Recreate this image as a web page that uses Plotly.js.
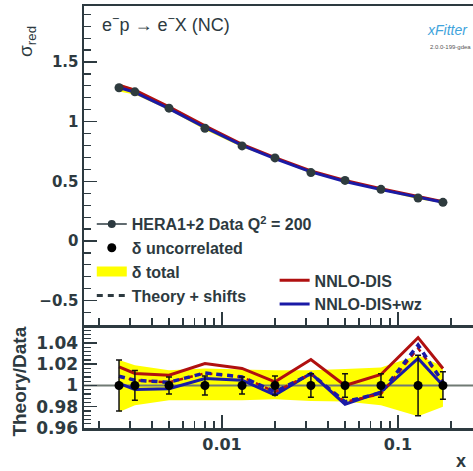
<!DOCTYPE html>
<html>
<head>
<meta charset="utf-8">
<script src="https://cdn.plot.ly/plotly-3.0.1.min.js"></script>
<style>html,body{margin:0;padding:0;background:#fff;}#chart{width:473px;height:471px;}</style>
</head>
<body>
<div id="chart"></div>
<script>
// ---- data ----
const xVals = [0.0026, 0.0032, 0.005, 0.008, 0.013, 0.02, 0.032, 0.05, 0.08, 0.13, 0.18];
const sigmaRed = [1.284, 1.250, 1.113, 0.945, 0.797, 0.696, 0.573, 0.508, 0.433, 0.360, 0.324];
const uncorrRel = [0.024, 0.014, 0.008, 0.009, 0.008, 0.009, 0.011, 0.011, 0.011, 0.0285, 0.013];
const totalUp = [1.024, 1.019, 1.0144, 1.016, 1.015, 1.0144, 1.0144, 1.0155, 1.017, 1.0285, 1.018];
const totalLo = [0.975, 0.9815, 0.986, 0.986, 0.986, 0.987, 0.9855, 0.985, 0.9815, 0.971, 0.980];
const ratioDIS = [1.0175, 1.0113, 1.0097, 1.0207, 1.016, 1.0034, 1.0244, 1.000, 1.0103, 1.045, 1.016];
const ratioDISwz = [1.002, 0.9962, 0.997, 1.0066, 1.005, 0.991, 1.0113, 0.9824, 0.994, 1.0254, 1.000];
const shiftDISwz = [1.0087, 1.005, 1.003, 1.0118, 1.008, 0.994, 1.011, 0.9846, 0.993, 1.038, 1.003];
const shiftDIS = [1.0085, 1.005, 1.003, 1.0115, 1.008, 0.994, 1.011, 0.9846, 0.992, 1.035, 1.004];
const majorXTicks = [0.01, 0.1];
const minorXTicks = [0.002,0.003,0.004,0.005,0.006,0.007,0.008,0.009,0.02,0.03,0.04,0.05,0.06,0.07,0.08,0.09,0.2];
const ratioTickVals = [0.96, 0.98, 1, 1.02, 1.04];
const ratioTickText = ['0.96', '0.98', '1', '1.02', '1.04'];

// ---- styles ----
const DARK = '#2d3a40';
const RED = '#b01010';
const BLUE = '#1a1aa6';
const YEL = '#ffff00';
const F = 'Liberation Sans, Arial, sans-serif';
const FW = 'DejaVu Sans, sans-serif';
const X_RANGE = [-2.784, -0.574];

const mul = (a, b) => a.map((v, i) => v * b[i]);
const bandX = xVals.concat(xVals.slice().reverse());
const fullX = X_RANGE.map(v => Math.pow(10, v));

const traces = [
  // top panel band
  {x: bandX, y: mul(sigmaRed, totalUp).concat(mul(sigmaRed, totalLo).reverse()),
   xaxis: 'x', yaxis: 'y', fill: 'toself', fillcolor: YEL, mode: 'none', showlegend: false, hoverinfo: 'skip'},
  {x: xVals, y: mul(sigmaRed, ratioDIS), xaxis: 'x', yaxis: 'y', mode: 'lines',
   line: {color: RED, width: 3}, name: 'NNLO-DIS', legend: 'legend2', legendrank: 1},
  {x: xVals, y: mul(sigmaRed, ratioDISwz), xaxis: 'x', yaxis: 'y', mode: 'lines',
   line: {color: BLUE, width: 3}, name: 'NNLO-DIS+wz', legend: 'legend2', legendrank: 2},
  {x: xVals, y: sigmaRed, xaxis: 'x', yaxis: 'y', mode: 'markers',
   marker: {color: '#2e3b3e', size: 9}, showlegend: false,
   error_y: {type: 'data', array: mul(sigmaRed, uncorrRel), color: '#2e3b3e', thickness: 1.5, width: 0}},
  // legend-only entries
  {x: [null], y: [null], xaxis: 'x', yaxis: 'y', mode: 'lines+markers', name: 'HERA1+2 Data Q<sup>2</sup> = 200',
   line: {color: DARK, width: 1.5}, marker: {color: DARK, size: 8}, legend: 'legend', legendrank: 1},
  {x: [null], y: [null], xaxis: 'x', yaxis: 'y', mode: 'lines', name: 'δ total',
   line: {color: YEL, width: 18}, legend: 'legend', legendrank: 3},
  // lower panel
  {x: bandX, y: totalUp.concat(totalLo.slice().reverse()), xaxis: 'x2', yaxis: 'y2', fill: 'toself',
   fillcolor: YEL, mode: 'none', showlegend: false, hoverinfo: 'skip'},
  {x: fullX, y: fullX.map(() => 1), xaxis: 'x2', yaxis: 'y2', mode: 'lines', line: {color: '#707a74', width: 2},
   showlegend: false, hoverinfo: 'skip', cliponaxis: true},
  {x: xVals, y: ratioDIS, xaxis: 'x2', yaxis: 'y2', mode: 'lines', line: {color: RED, width: 3}, showlegend: false},
  {x: xVals, y: ratioDISwz, xaxis: 'x2', yaxis: 'y2', mode: 'lines', line: {color: BLUE, width: 3}, showlegend: false},
  {x: xVals, y: shiftDIS, xaxis: 'x2', yaxis: 'y2', mode: 'lines', line: {color: RED, width: 2.5, dash: '5px,5px'}, showlegend: false},
  {x: xVals, y: shiftDISwz, xaxis: 'x2', yaxis: 'y2', mode: 'lines', line: {color: BLUE, width: 3.5, dash: '6px,5px'}, showlegend: false},
  {x: xVals, y: xVals.map(() => 1), xaxis: 'x2', yaxis: 'y2', mode: 'markers', name: 'δ uncorrelated',
   marker: {color: '#000', size: 9}, legend: 'legend', legendrank: 2,
   error_y: {type: 'data', array: uncorrRel, color: '#111', thickness: 1.5, width: 3}},
  {x: [null], y: [null], xaxis: 'x2', yaxis: 'y2', mode: 'lines', name: 'Theory + shifts',
   line: {color: DARK, width: 3, dash: '6px,5px'}, legend: 'legend', legendrank: 4}
];

const xCommon = {
  type: 'log', range: X_RANGE, tickvals: majorXTicks, ticks: 'inside', ticklen: 13,
  tickwidth: 1.5, tickcolor: DARK, minor: {tickvals: minorXTicks, ticks: 'inside', ticklen: 7, tickwidth: 1.2, tickcolor: DARK},
  showline: true, linecolor: DARK, linewidth: 2.5, mirror: true, showgrid: false, zeroline: false
};

const layout = {
  width: 473, height: 471,
  margin: {l: 84, r: 0, t: 6, b: 43},
  paper_bgcolor: '#fff', plot_bgcolor: '#fff',
  font: {family: F, color: DARK},
  xaxis: Object.assign({}, xCommon, {anchor: 'y', domain: [0, 1], showticklabels: false}),
  xaxis2: Object.assign({}, xCommon, {anchor: 'y2', domain: [0, 1], matches: 'x', showticklabels: true,
    ticktext: ['0.01', '0.1'], tickfont: {family: FW, size: 16, weight: 'bold', color: DARK}}),
  yaxis: {
    domain: [0.244, 1], range: [-0.704, 1.969], tick0: 0, dtick: 0.5, ticks: 'inside', ticklen: 13, tickwidth: 1.5,
    tickcolor: DARK, minor: {dtick: 0.1, ticks: 'inside', ticklen: 7, tickwidth: 1.2, tickcolor: DARK},
    tickfont: {family: FW, size: 15, weight: 'bold', color: DARK},
    showline: true, linecolor: DARK, linewidth: 2.5, mirror: true, showgrid: false, zeroline: false, anchor: 'x'
  },
  yaxis2: {
    domain: [0, 0.2393], range: [0.96, 1.055], tickvals: ratioTickVals, ticktext: ratioTickText, ticks: 'inside',
    ticklen: 13, tickwidth: 1.5, tickcolor: DARK,
    minor: {tick0: 0.96, dtick: 0.004, ticks: 'inside', ticklen: 7, tickwidth: 1.2, tickcolor: DARK},
    tickfont: {family: FW, size: 17, weight: 'bold', color: DARK},
    showline: true, linecolor: DARK, linewidth: 2.5, mirror: true, showgrid: false, zeroline: false, anchor: 'x2'
  },
  legend: {x: 0.02, xanchor: 'left', y: 0.5235, yanchor: 'top', bgcolor: 'rgba(0,0,0,0)', borderwidth: 0,
    font: {family: F, size: 16, weight: 'bold', color: DARK}, tracegroupgap: 0, traceorder: 'normal'},
  legend2: {x: 0.49, xanchor: 'left', y: 0.39, yanchor: 'top', bgcolor: 'rgba(0,0,0,0)', borderwidth: 0,
    font: {family: F, size: 16, weight: 'bold', color: DARK}, tracegroupgap: 0, traceorder: 'normal'},
  annotations: [
    {text: 'e<sup>−</sup>p → e<sup>−</sup>X (NC)', xref: 'paper', yref: 'paper', x: 0.041, y: 0.958,
     xanchor: 'left', yanchor: 'middle', showarrow: false, font: {family: F, size: 18, color: DARK}},
    {text: 'σ<sub>red</sub>', xref: 'paper', yref: 'paper', x: -0.1465, y: 0.915, textangle: -90,
     xanchor: 'center', yanchor: 'middle', showarrow: false, font: {family: F, size: 19, color: DARK}},
    {text: '<b>Theory/Data</b>', xref: 'paper', yref: 'paper', x: -0.1645, y: 0.11, textangle: -90,
     xanchor: 'center', yanchor: 'middle', showarrow: false, font: {family: F, size: 19, color: DARK}},
    {text: '<b>x</b>', xref: 'paper', yref: 'paper', x: 0.968, y: -0.078,
     xanchor: 'center', yanchor: 'middle', showarrow: false, font: {family: F, size: 18, color: DARK}},
    {text: '<i>xFitter</i>', xref: 'paper', yref: 'paper', x: 0.935, y: 0.942,
     xanchor: 'center', yanchor: 'middle', showarrow: false, font: {family: F, size: 14, color: '#3fa4dc'}},
    {text: '2.0.0-199-gdea', xref: 'paper', yref: 'paper', x: 0.943, y: 0.902,
     xanchor: 'center', yanchor: 'middle', showarrow: false, font: {family: F, size: 6, color: '#555'}}
  ]
};

Plotly.newPlot('chart', traces, layout, {displayModeBar: false, staticPlot: true});
</script>
</body>
</html>
